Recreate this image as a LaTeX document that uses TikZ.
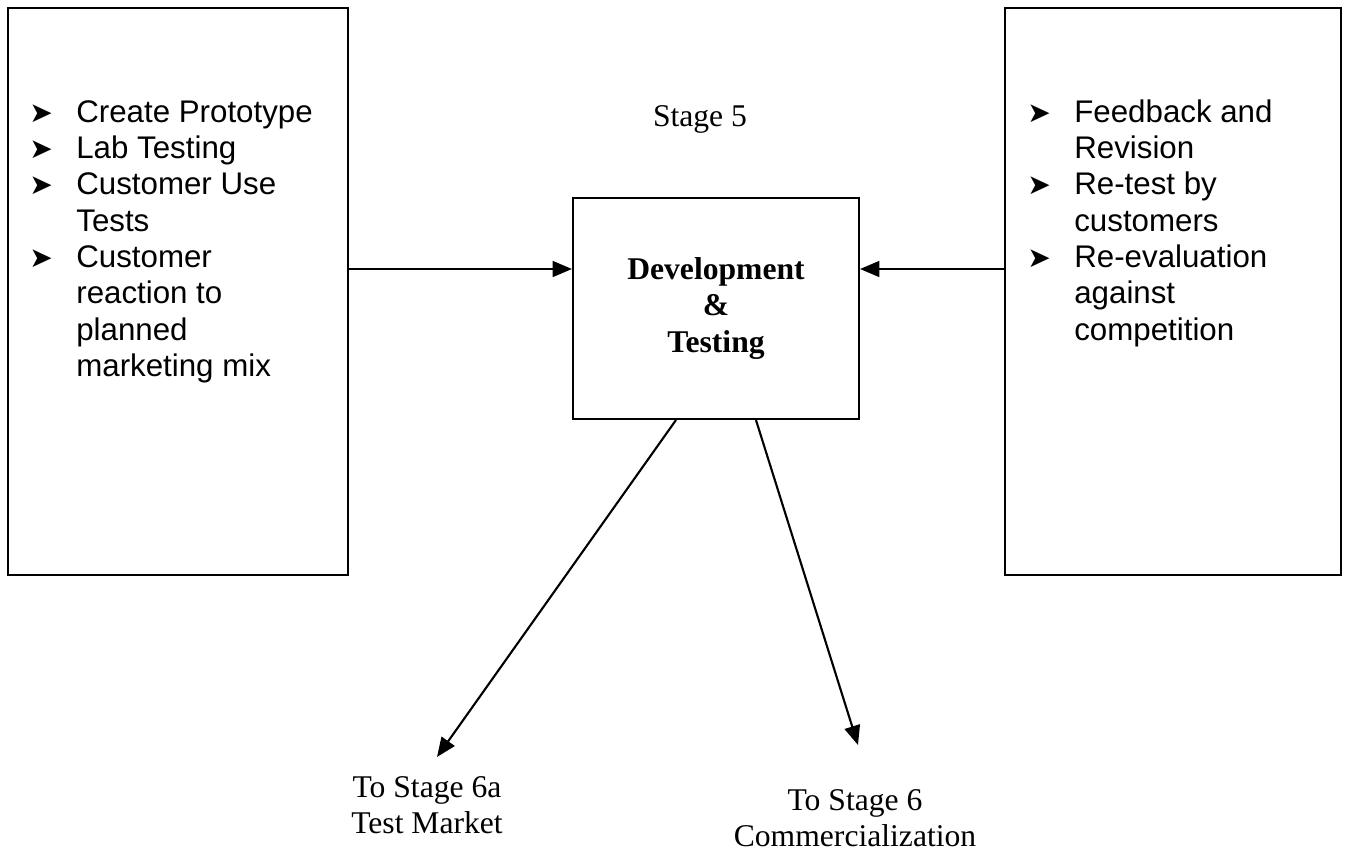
\documentclass[tikz,border=0pt]{standalone}
\usepackage{fontspec}
\setmainfont{Liberation Serif}
\newfontfamily\arialfont{Liberation Sans}
\newfontfamily\symfont{DejaVu Sans}
\usetikzlibrary{arrows.meta,positioning,calc}
\newcommand{\bul}{\makebox[0.94cm][l]{\symfont\fontsize{16}{16}\selectfont ➤}}

\begin{document}
\begin{tikzpicture}[
    x=0.02cm, y=-0.02cm,
    box/.style={rectangle, draw, line width=1.2pt, inner sep=0pt},
    list/.style={anchor=base west, inner sep=0pt, font=\arialfont\fontsize{17.8}{20.7}\selectfont},
    note/.style={anchor=base, inner sep=0pt, font=\fontsize{18}{21}\selectfont},
    arr/.style={-{Triangle[length=11pt,width=9pt]}, line width=1.2pt}
]
    \useasboundingbox (0,0) rectangle (1349,852);

    % Side boxes
    \node[box, minimum width=6.8cm, minimum height=11.34cm] (left) at (178,291.5) {};
    \node[box, minimum width=6.72cm, minimum height=11.34cm] (right) at (1173,291.5) {};

    % Lists
    \node[list] (leftlist) at (29,122) {\begin{tabular}[t]{@{}l@{}l@{}}
        \bul & Create Prototype\\
        \bul & Lab Testing\\
        \bul & Customer Use\\
             & Tests\\
        \bul & Customer\\
             & reaction to\\
             & planned\\
             & marketing mix
    \end{tabular}};
    \node[list] (rightlist) at (1027,122) {\begin{tabular}[t]{@{}l@{}l@{}}
        \bul & Feedback and\\
             & Revision\\
        \bul & Re-test by\\
             & customers\\
        \bul & Re-evaluation\\
             & against\\
             & competition
    \end{tabular}};

    % Stage 5
    \node[note] (stage) at (700,126) {Stage 5};
    \node[box, minimum width=5.72cm, minimum height=4.42cm, align=center,
          font=\bfseries\fontsize{18}{21}\selectfont] (dev) at (716,308.5) {Development\\\&\\Testing};

    % Next stages
    \node[note] (to6a) at (427,797) {\begin{tabular}[t]{@{}c@{}}To Stage 6a\\Test Market\end{tabular}};
    \node[note] (to6) at (855,810) {\begin{tabular}[t]{@{}c@{}}To Stage 6\\Commercialization\end{tabular}};

    % Edges
    \coordinate (lvl) at (0,269);
    \coordinate (tip6a) at (437,757);
    \coordinate (tip6) at (858,745);
    \draw[arr] (left.east |- lvl) -- (dev.west |- lvl);
    \draw[arr] (right.west |- lvl) -- (dev.east |- lvl);
    \draw[arr] ($(dev.south west)+(104,0)$) -- (tip6a);
    \draw[arr] ($(dev.south west)+(184,0)$) -- (tip6);
\end{tikzpicture}
\end{document}
